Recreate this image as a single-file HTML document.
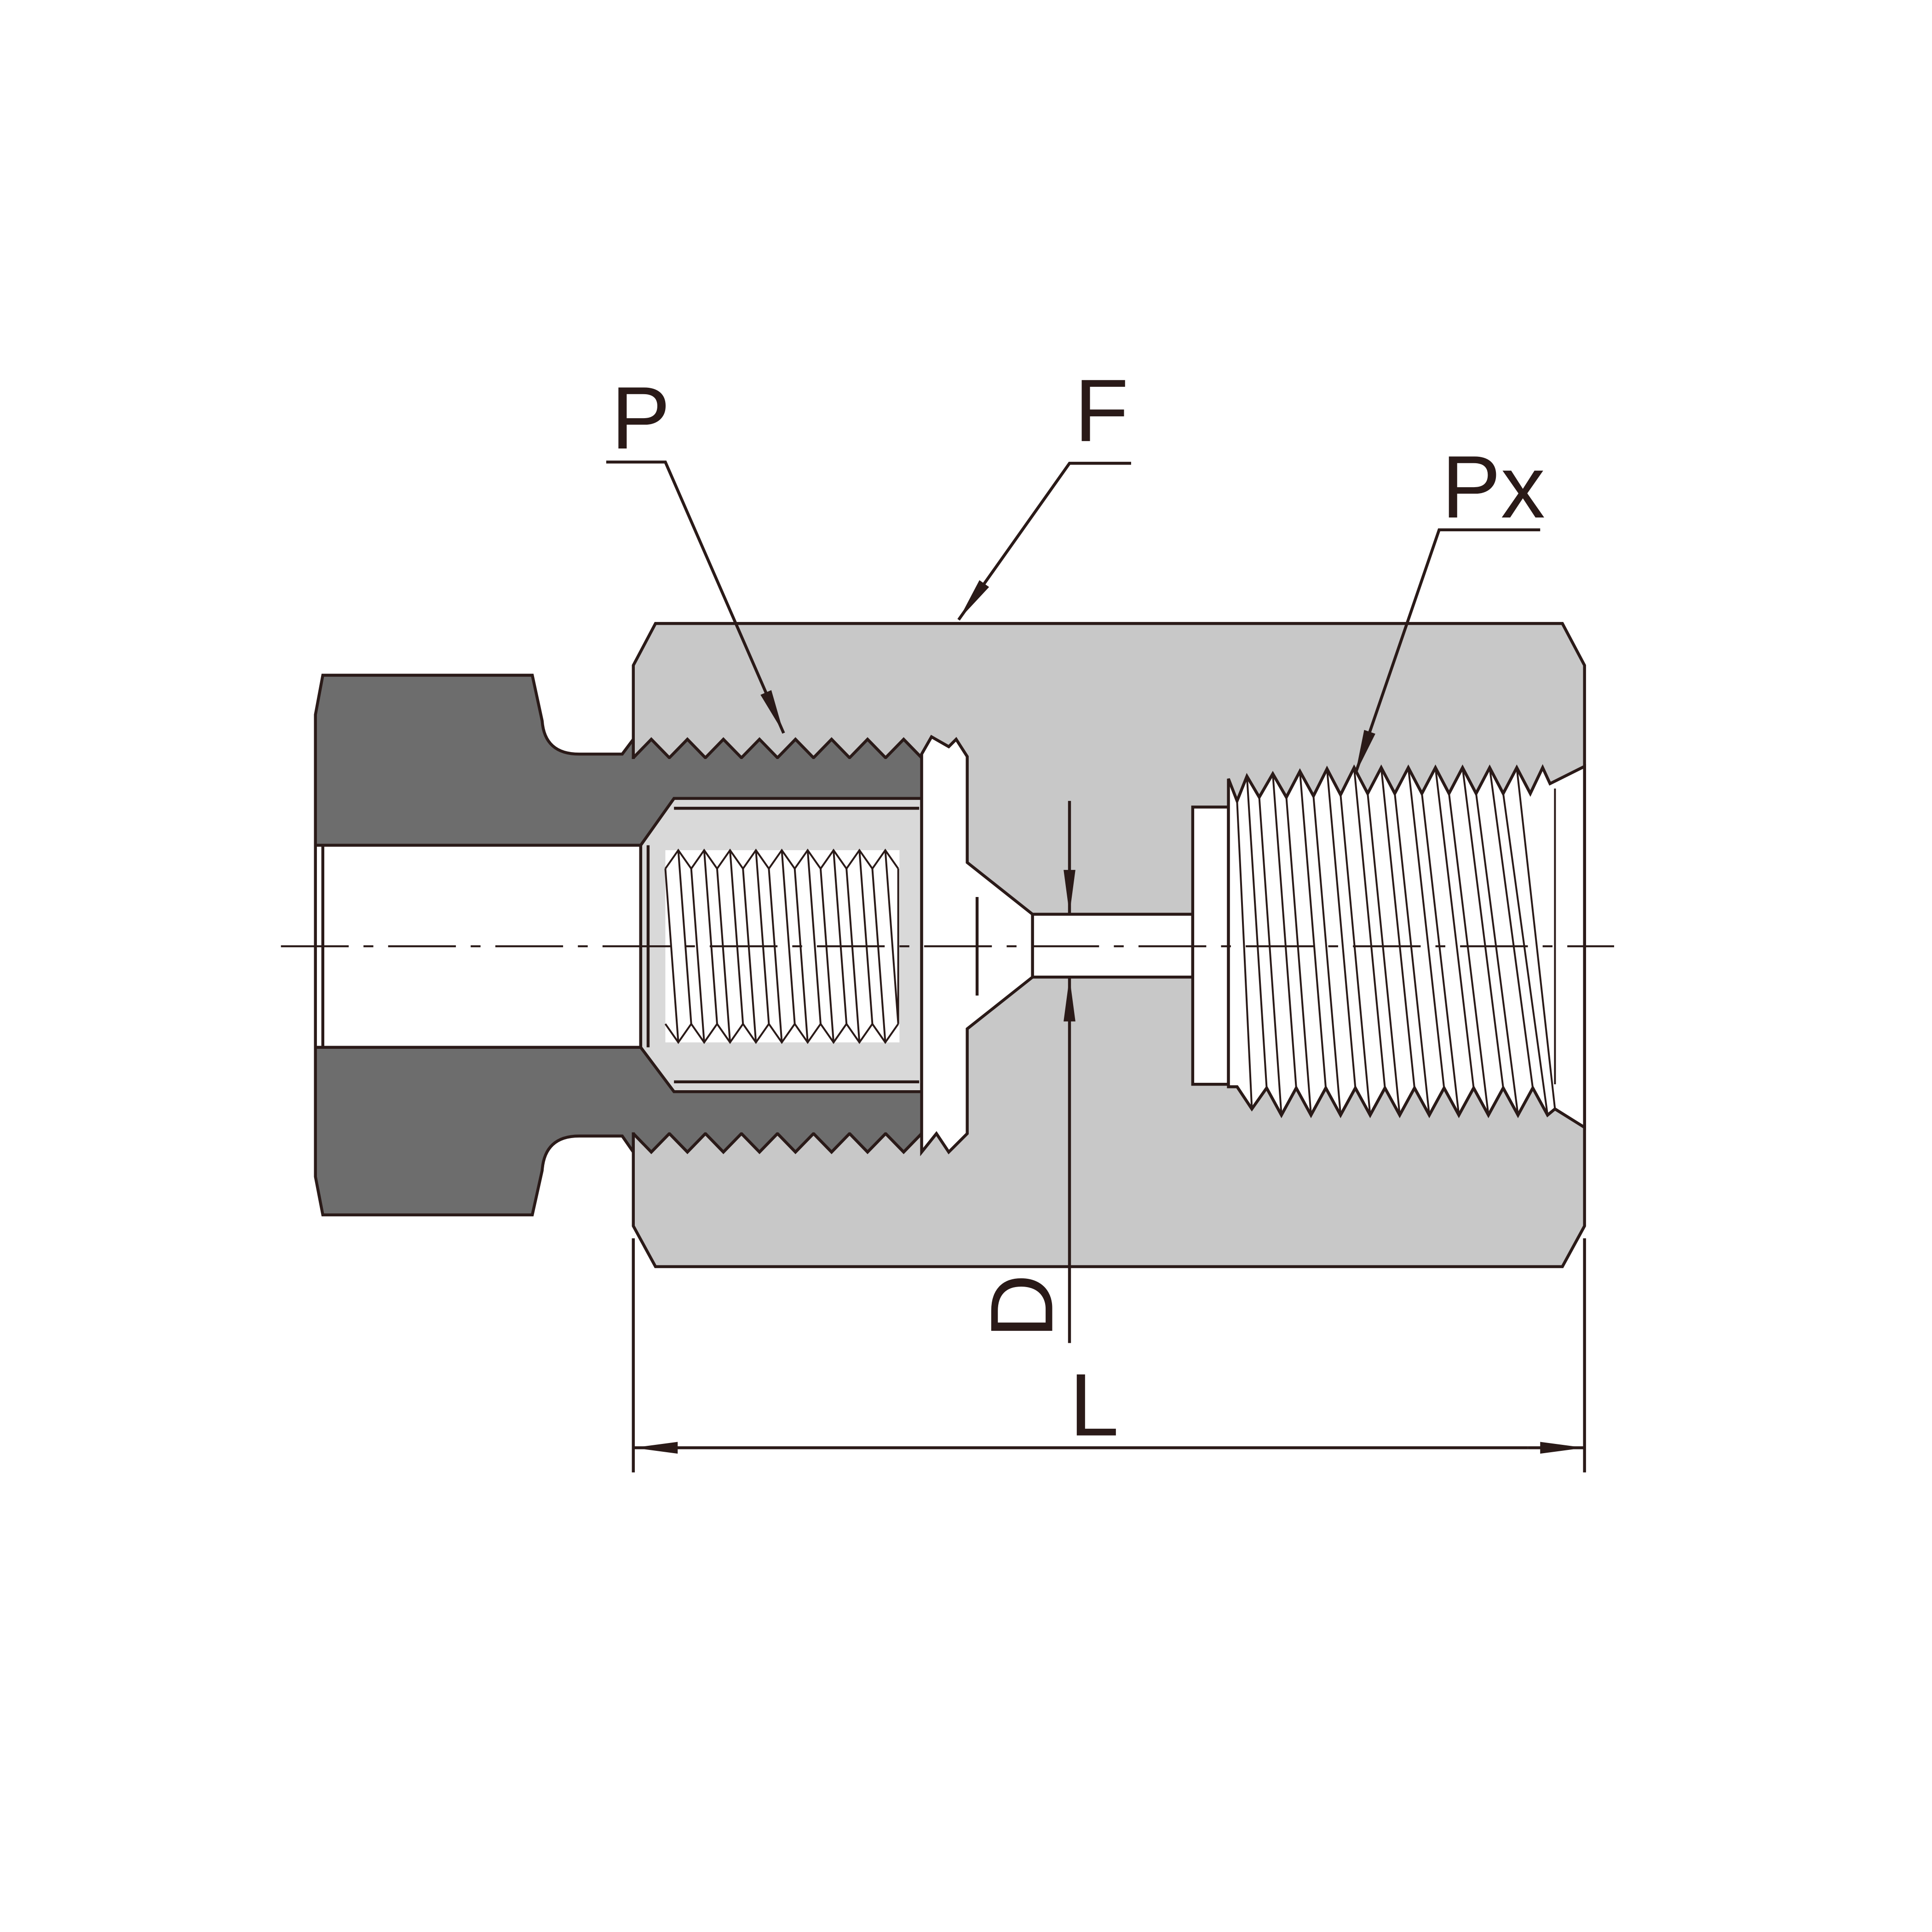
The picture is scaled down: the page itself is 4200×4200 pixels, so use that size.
<!DOCTYPE html>
<html><head><meta charset="utf-8"><style>html,body{margin:0;padding:0;background:#fff}svg{display:block}</style></head>
<body>
<svg width="4200" height="4200" viewBox="0 0 1568 1568" xmlns="http://www.w3.org/2000/svg">
<defs>
<marker id="arL" viewBox="0 0 30 10" refX="30" refY="5" markerWidth="42" markerHeight="12" markerUnits="userSpaceOnUse" orient="auto"><path d="M0,1 L30,5 L0,9 Z" fill="#2a1a18"/></marker>
</defs>
<g stroke="#2a1a18" stroke-width="2.4" stroke-linejoin="miter">
<!-- body -->
<path d="M532,506 L1268,506 L1286,540 L1286,995 L1268,1028 L532,1028 L514,995 L514,540 Z" fill="#c8c8c8"/>
<!-- nut -->
<path d="M262,548 L432,548 L440,585 Q442,612 470,612 L505,612 L514,600 L514,935 L505,922 L470,922 Q442,922 440,950 L432,986 L262,986 L256,955 L256,580 Z" fill="#6d6d6d"/>
<!-- nut external thread -->
<path d="M514,615 L528.6,600 L543.25,615 L557.9,600 L572.5,615 L587.1,600 L601.75,615 L616.4,600 L631,615 L645.6,600 L660.25,615 L674.9,600 L689.5,615 L704.1,600 L718.75,615 L733.4,600 L748,615 L748,920 L733.4,935 L718.75,920 L704.1,935 L689.5,920 L674.9,935 L660.25,920 L645.6,935 L631,920 L616.4,935 L601.75,920 L587.1,935 L572.5,920 L557.9,935 L543.25,920 L528.6,935 L514,920 Z" fill="#6d6d6d"/>
<rect x="505" y="616" width="242" height="303" fill="#6d6d6d" stroke="none"/>
<!-- nut bore -->
<rect x="256" y="686" width="264" height="164" fill="#fff"/>
<line x1="262" y1="686" x2="262" y2="850"/>
<!-- inner cavity -->
<path d="M520,686 L547,648 L748,648 L748,886 L547,886 L520,850 Z" fill="#d9d9d9"/>
<line x1="547" y1="656" x2="746" y2="656"/>
<line x1="547" y1="878" x2="746" y2="878"/>
<line x1="526" y1="686" x2="526" y2="850"/>
<rect x="540" y="690" width="190" height="156" fill="#fff" stroke="none"/>
<g stroke-width="1.5" fill="none">
<path d="M540,705 L550.5,690 L561,705 L571.5,690 L582,705 L592.5,690 L603,705 L613.5,690 L624,705 L634.5,690 L645,705 L655.5,690 L666,705 L676.5,690 L687,705 L697.5,690 L708,705 L718.5,690 L729,705"/>
<path d="M540,831 L550.5,846 L561,831 L571.5,846 L582,831 L592.5,846 L603,831 L613.5,846 L624,831 L634.5,846 L645,831 L655.5,846 L666,831 L676.5,846 L687,831 L697.5,846 L708,831 L718.5,846 L729,831"/>
<path d="M550.5,690 L561,831 M561,705 L571.5,846 M571.5,690 L582,831 M582,705 L592.5,846 M592.5,690 L603,831 M603,705 L613.5,846 M613.5,690 L624,831 M624,705 L634.5,846 M634.5,690 L645,831 M645,705 L655.5,846 M655.5,690 L666,831 M666,705 L676.5,846 M676.5,690 L687,831 M687,705 L697.5,846 M697.5,690 L708,831 M708,705 L718.5,846 M718.5,690 L729,831 M540,705 L550.5,846 M729,705 L729,831"/>
</g>
<!-- washer / white flange -->
<path d="M748,612 L756,598 L770,606 L776,600 L785,614 L785,700 L838,742 L838,793 L785,835 L785,920 L770,935 L760,920 L748,935 Z" fill="#fff"/>
<line x1="793" y1="728" x2="793" y2="808"/>
<!-- bore -->
<rect x="838" y="742" width="130" height="51" fill="#fff"/>
<!-- right port -->
<rect x="968" y="655" width="29" height="225" fill="#fff"/>
<path d="M997,632 L1004,650 L1012,630 L1022,647 L1033,628 L1044,647 L1055,626 L1066,646 L1077,624 L1088,645 L1099,623 L1110,644 L1121,623 L1132,644 L1143,623 L1154,644 L1165,623 L1176,644 L1187,623 L1198,644 L1209,623 L1220,644 L1231,623 L1242,644 L1252,623 L1258,636 L1286,622 L1286,915 L1262,900 L1256,905 L1244,883 L1232,905 L1220,883 L1208,905 L1196,883 L1184,905 L1172,883 L1160,905 L1148,883 L1136,905 L1124,883 L1112,905 L1100,883 L1088,905 L1076,883 L1064,905 L1052,883 L1040,905 L1028,883 L1016,900 L1004,882 L997,882 Z" fill="#fff"/>
<g stroke-width="1.5" fill="none">
<path d="M1004,650 L1016,900 M1012,630 L1028,883 M1022,647 L1040,905 M1033,628 L1052,883 M1044,647 L1064,905 M1055,626 L1076,883 M1066,646 L1088,905 M1077,624 L1100,883 M1088,645 L1112,905 M1099,623 L1124,883 M1110,644 L1136,905 M1121,623 L1148,883 M1132,644 L1160,905 M1143,623 L1172,883 M1154,644 L1184,905 M1165,623 L1196,883 M1176,644 L1208,905 M1187,623 L1220,883 M1198,644 L1232,905 M1209,623 L1244,883 M1220,644 L1256,905 M1231,623 L1262,900 M1262,640 L1262,880"/>
</g>
<!-- centerline -->
<path d="M228,768 L1310,768" stroke-width="1.6" stroke-dasharray="55,12,8,12" fill="none"/>
<!-- D dimension -->
<line x1="868" y1="650" x2="868" y2="742" marker-end="url(#arL)"/>
<line x1="868" y1="1090" x2="868" y2="793" marker-end="url(#arL)"/>
<!-- L dimension -->
<line x1="514" y1="1005" x2="514" y2="1195"/>
<line x1="1286" y1="1005" x2="1286" y2="1195"/>
<line x1="560" y1="1175" x2="514" y2="1175" marker-end="url(#arL)"/>
<line x1="560" y1="1175" x2="1240" y2="1175"/>
<line x1="1240" y1="1175" x2="1286" y2="1175" marker-end="url(#arL)"/>
<!-- leaders -->
<polyline points="492,375 540,375 636,595" fill="none" marker-end="url(#arL)"/>
<polyline points="918,376 868,376 778,503" fill="none" marker-end="url(#arL)"/>
<polyline points="1250,430 1168,430 1100,628" fill="none" marker-end="url(#arL)"/>
</g>
<g font-family="Liberation Sans, sans-serif" font-size="72" fill="#2a1a18">
<text x="496" y="364">P</text>
<text x="872" y="358">F</text>
<text x="1170" y="420">Px</text>
<text x="868" y="1165">L</text>
<text transform="translate(854,1086) rotate(-90)">D</text>
</g>
</svg>
</body></html>
